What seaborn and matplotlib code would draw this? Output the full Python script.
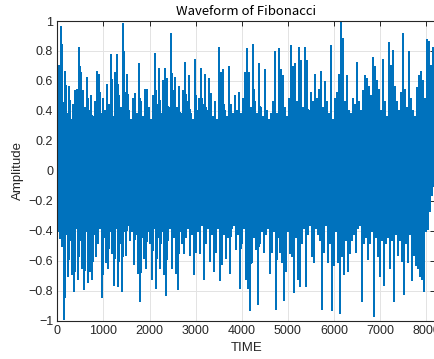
import numpy as np
import pandas as pd
import matplotlib
matplotlib.use("Agg")
import matplotlib.pyplot as plt
import seaborn as sns

# Waveform summarised per frame: highest and lowest sample in each frame
frame_high = [
    0.78, 0.70, 0.96, 0.45, 0.66, 0.38, 0.56, 0.34, 0.44, 0.53,
    0.54, 0.82, 0.65, 0.53, 0.42, 0.62, 0.40, 0.50, 0.36, 0.46,
    0.66, 0.64, 0.38, 0.48, 0.40, 0.57, 0.44, 0.77, 0.36, 0.65,
    0.77, 0.50, 0.42, 0.98, 0.52, 0.64, 0.40, 0.34, 0.48, 0.51,
    0.38, 0.71, 0.46, 0.36, 0.54, 0.54, 0.42, 0.34, 0.50, 0.78,
    0.44, 0.68, 0.38, 0.60, 0.68, 0.61, 0.42, 0.91, 0.53, 0.62,
    0.42, 0.56, 0.38, 0.53, 0.72, 0.46, 0.63, 0.38, 0.34, 0.74,
    0.40, 0.48, 0.68, 0.44, 0.64, 0.40, 0.61, 0.51, 0.36, 0.46,
    0.34, 0.82, 0.65, 0.67, 0.40, 0.36, 0.69, 0.44, 0.38, 0.50,
    0.40, 0.52, 0.38, 0.48, 0.65, 0.81, 0.65, 0.42, 0.84, 0.46,
    0.38, 0.71, 0.42, 0.36, 0.67, 0.40, 0.34, 0.38, 0.46, 0.79,
    0.38, 0.81, 0.67, 0.63, 0.42, 0.36, 0.48, 0.83, 0.69, 0.71,
    0.46, 0.82, 0.73, 0.42, 0.82, 0.73, 0.40, 0.52, 0.46, 0.64,
    0.48, 0.54, 0.66, 0.42, 0.59, 0.46, 0.38, 0.83, 0.34, 0.48,
    0.52, 0.64, 1.00, 0.88, 0.46, 0.63, 0.40, 0.38, 0.48, 0.44,
    0.72, 0.46, 0.40, 0.53, 0.63, 0.61, 0.56, 0.50, 0.75, 0.69,
    0.60, 0.54, 0.40, 0.74, 0.46, 0.36, 0.85, 0.70, 0.80, 0.56,
    0.46, 0.40, 0.52, 0.91, 0.54, 0.42, 0.79, 0.48, 0.40, 0.36,
    0.55, 0.63, 0.66, 0.60, 0.48, 0.87, 0.86, 0.70, 0.82,
]
frame_low = [
    -0.40, -0.45, -0.50, -0.99, -0.42, -0.70, -0.46, -0.69, -0.80, -0.38,
    -0.72, -0.46, -0.65, -0.79, -0.40, -0.74, -0.67, -0.72, -0.42, -0.57,
    -0.48, -0.38, -0.84, -0.44, -0.61, -0.65, -0.40, -0.55, -0.76, -0.38,
    -0.77, -0.48, -0.80, -0.40, -0.56, -0.36, -0.46, -0.40, -0.62, -0.42,
    -0.68, -0.87, -0.44, -0.58, -0.65, -0.40, -0.48, -0.72, -0.38, -0.78,
    -0.44, -0.65, -0.40, -0.69, -0.83, -0.46, -0.38, -0.65, -0.44, -0.68,
    -0.79, -0.40, -0.48, -0.55, -0.44, -0.38, -0.56, -0.42, -0.69, -0.54,
    -0.40, -0.55, -0.36, -0.72, -0.48, -0.38, -0.60, -0.42, -0.67, -0.54,
    -0.38, -0.73, -0.62, -0.42, -0.58, -0.44, -0.68, -0.38, -0.36, -0.52,
    -0.42, -0.78, -0.48, -0.38, -0.72, -0.78, -0.93, -0.61, -0.44, -0.52,
    -0.89, -0.48, -0.40, -0.54, -0.42, -0.38, -0.68, -0.54, -0.40, -0.92,
    -0.44, -0.54, -0.61, -0.86, -0.67, -0.40, -0.55, -0.57, -0.81, -0.44,
    -0.72, -0.77, -0.48, -0.38, -0.77, -0.42, -0.36, -0.57, -0.61, -0.38,
    -0.42, -0.46, -0.92, -0.54, -0.36, -0.61, -0.48, -0.93, -0.63, -0.40,
    -0.61, -0.95, -0.57, -0.69, -0.46, -0.67, -0.55, -0.46, -0.42, -0.54,
    -0.38, -0.36, -0.87, -0.48, -0.44, -0.59, -0.48, -0.40, -0.97, -0.44,
    -0.57, -0.70, -0.46, -0.76, -0.48, -0.44, -0.65, -0.46, -0.87, -0.42,
    -0.56, -0.46, -0.60, -0.82, -0.48, -0.61, -0.42, -0.73, -0.56, -0.63,
    -0.65, -0.70, -0.72, -0.80, -0.40, -0.39, -0.27, -0.16, -0.10,
]
total_samples = 8192

x_ticks = [0, 1000, 2000, 3000, 4000, 5000, 6000, 7000, 8000]
y_ticks = [-1, -0.8, -0.6, -0.4, -0.2, 0, 0.2, 0.4, 0.6, 0.8, 1]
y_tick_labels = ["\u22121", "\u22120.8", "\u22120.6", "\u22120.4", "\u22120.2",
                 "0", "0.2", "0.4", "0.6", "0.8", "1"]

# Alternate high/low of each frame so the trace sweeps the full frame range
amplitude = np.empty(2 * len(frame_high))
amplitude[0::2] = frame_high
amplitude[1::2] = frame_low
hop = total_samples / len(amplitude)
wave = pd.DataFrame({"TIME": np.arange(len(amplitude)) * hop, "Amplitude": amplitude})

sns.set_theme(style="white")
plt.rcParams["font.family"] = ["Liberation Sans", "DejaVu Sans"]

fig = plt.figure(figsize=(4.35, 3.59), dpi=100)
ax = fig.add_axes([57.3 / 435, 38.5 / 359, 377.7 / 435, 299.5 / 359])

sns.lineplot(data=wave, x="TIME", y="Amplitude", estimator=None, sort=False,
             color="#0072BD", linewidth=0.9, antialiased=False, ax=ax)

ax.set_xlim(0, total_samples)
ax.set_ylim(-1, 1)
ax.set_xticks(x_ticks)
ax.set_xticklabels([str(t) for t in x_ticks])
ax.set_yticks(y_ticks)
ax.set_yticklabels(y_tick_labels)

ax.grid(True, color="#e3e3e3", linewidth=0.7)
ax.set_axisbelow(True)
for side in ax.spines.values():
    side.set_color("#262626")
    side.set_linewidth(0.8)
ax.tick_params(direction="in", length=3.5, width=0.7, colors="#262626",
               labelsize=9, top=True, right=True, pad=3)
for lbl in ax.get_xticklabels() + ax.get_yticklabels():
    lbl.set_color("#262626")

ax.set_xlabel("TIME", fontsize=9.5, color="#262626", labelpad=4)
ax.set_ylabel("Amplitude", fontsize=9.5, color="#262626", labelpad=3)
ax.set_title("Waveform of Fibonacci", fontsize=9.5, color="#000000", pad=4,
             family=["Noto Sans CJK JP", "DejaVu Sans"])

fig.savefig("out.png", dpi=100)
